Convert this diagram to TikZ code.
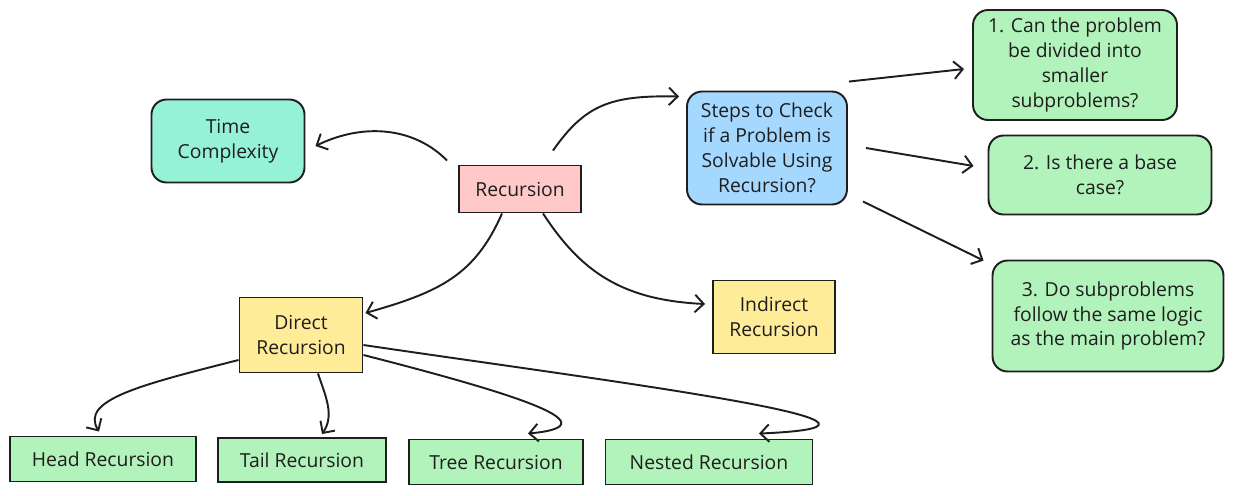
\documentclass[tikz,border=0pt]{standalone}
\usepackage{fontspec}
\setmainfont{Open Sans}
\usetikzlibrary{arrows.meta,calc}

\definecolor{ink}{HTML}{1E1E1E}
\definecolor{tealfill}{HTML}{96F2D7}
\definecolor{pinkfill}{HTML}{FFC9C9}
\definecolor{bluefill}{HTML}{A5D8FF}
\definecolor{greenfill}{HTML}{B2F2BB}
\definecolor{yellowfill}{HTML}{FFEC99}

\begin{document}
\begin{tikzpicture}[
        x=0.02cm, y=-0.02cm,
        box/.style={draw=ink, line width=1.1pt, align=center, inner sep=2pt,
            text=ink, font=\fontsize{11}{14.2}\selectfont},
        soft/.style={box, rounded corners=0.3cm},
        arrow/.style={-{Straight Barb[length=5pt,width=10pt]}, line width=1.1pt, draw=ink}
    ]
\useasboundingbox (0,0) rectangle (1235,495);

% Centre and topic nodes
        \node[box, fill=pinkfill, minimum width=2.44cm, minimum height=0.94cm] (rec) at (520,189) {Recursion};
        \node[soft, fill=tealfill, minimum width=3.06cm, minimum height=1.66cm] (time) at (228,141) {Time\\Complexity};
        \node[soft, fill=bluefill, minimum width=3.2cm, minimum height=2.26cm] (steps) at (767,148) {Steps to Check\\if a Problem is\\Solvable Using\\Recursion?};
        \node[box, fill=yellowfill, minimum width=2.46cm, minimum height=1.5cm] (direct) at (301,335) {Direct\\Recursion};
        \node[box, fill=yellowfill, minimum width=2.44cm, minimum height=1.46cm] (indirect) at (774,317) {Indirect\\Recursion};

% Checklist nodes
        \node[soft, fill=greenfill, minimum width=4.08cm, minimum height=2.2cm] (step1) at (1075,65) {1. Can the problem\\be divided into\\smaller\\subproblems?};
        \node[soft, fill=greenfill, minimum width=4.46cm, minimum height=1.58cm] (step2) at (1100,175) {2. Is there a base\\case?};
        \node[soft, fill=greenfill, minimum width=4.62cm, minimum height=2.22cm] (step3) at (1108,316) {3. Do subproblems\\follow the same logic\\as the main problem?};

% Kinds of direct recursion
        \node[box, fill=greenfill, minimum width=3.72cm, minimum height=0.9cm] (head) at (103,459) {Head Recursion};
        \node[box, fill=greenfill, minimum width=3.36cm, minimum height=0.88cm] (tail) at (302,460) {Tail Recursion};
        \node[box, fill=greenfill, minimum width=3.48cm, minimum height=0.9cm] (tree) at (496,462) {Tree Recursion};
        \node[box, fill=greenfill, minimum width=4.14cm, minimum height=0.9cm] (nested) at (709,462) {Nested Recursion};

% Arrows from the centre
        \draw[arrow] ($(rec.north west)+(-11,-4)$) .. controls (415,128) and (365,122) .. ($(time.east)+(10,5)$);
        \draw[arrow] ($(rec.north)+(33,-14)$) .. controls (585,105) and (610,95) .. ($(steps.north west)+(-7,6)$);
        \draw[arrow] ($(rec.south)+(-18,0)$) .. controls (475,275) and (440,292) .. ($(direct.east)+(2,-22)$);
        \draw[arrow] ($(rec.south)+(23,0)$) .. controls (580,270) and (620,300) .. ($(indirect.west)+(-7,-13)$);

% Arrows to the checklist
        \draw[arrow] ($(steps.north east)+(1,-9)$) -- ($(step1.west)+(-8,4)$);
        \draw[arrow] ($(steps.east)+(18,0)$) -- ($(step2.west)+(-14,-9)$);
        \draw[arrow] ($(steps.south east)+(15,-4)$) -- ($(step3.north west)+(-8,1)$);

% Arrows to the kinds
        \draw[arrow] ($(direct.west)+(0,25)$) .. controls (140,385) and (80,400) .. ($(head.north)+(-4,-4)$);
        \draw[arrow] ($(direct.south)+(17,0)$) .. controls (325,395) and (335,415) .. ($(tail.north)+(20,-3)$);
        \draw[arrow] ($(direct.east)+(0,20)$) .. controls (500,390) and (620,425) .. ($(tree.north)+(32,-5)$);
        \draw[arrow] ($(direct.east)+(0,10)$) .. controls (600,380) and (960,425) .. ($(nested.north)+(50,-5)$);

    \end{tikzpicture}
\end{document}
